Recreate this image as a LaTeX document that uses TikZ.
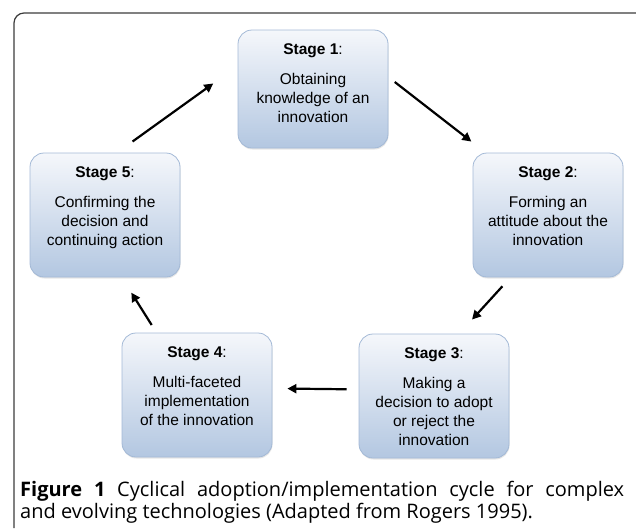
\documentclass[tikz,border=0pt]{standalone}
\usepackage{fontspec}
\setmainfont{Liberation Sans}
\newfontfamily\capfont{Open Sans}
\usetikzlibrary{arrows.meta}
\usetikzlibrary{shadows}

\definecolor{stagetop}{HTML}{F5F7FB}
\definecolor{stagebottom}{HTML}{B3C7E1}
\definecolor{stageedge}{HTML}{A3B9D6}
\definecolor{framegray}{HTML}{3C3C3C}

% text of one stage box, hung from the top
\newcommand{\stagebox}[3]{%
  \parbox[c][#2][t]{150pt}{\centering\fontsize{15.5}{19}\selectfont
    \vspace{14pt}\textbf{Stage #1}:\par\vspace{11pt}#3}}

\begin{document}
\begin{tikzpicture}[x=1pt, y=-1pt,
    stage/.style={draw=stageedge, line width=0.8pt, rounded corners=14pt,
      top color=stagetop, bottom color=stagebottom, inner sep=0pt,
      drop shadow={opacity=0.2, shadow xshift=0.5pt, shadow yshift=-1.5pt}},
    flow/.style={line width=2.2pt, -{Triangle[length=9pt, width=9pt]}}]
      \useasboundingbox (0, 0) rectangle (636, 528);

      \draw[line width=1.2pt, framegray, rounded corners=10pt] (14, 528) -- (14, 13) -- (636, 13);

      \node[stage] (s1) at (313, 89) {\stagebox{1}{118pt}{Obtaining\\knowledge of an\\innovation}};
      \node[stage] (s2) at (548, 215) {\stagebox{2}{124pt}{Forming an\\attitude about the\\innovation}};
      \node[stage] (s3) at (434, 396) {\stagebox{3}{124pt}{Making a\\decision to adopt\\or reject the\\innovation}};
      \node[stage] (s4) at (197, 395) {\stagebox{4}{124pt}{Multi-faceted\\implementation\\of the innovation}};
      \node[stage] (s5) at (105, 215) {\stagebox{5}{124pt}{Confirming the\\decision and\\continuing action}};

      \draw[flow, shorten <=8pt, shorten >=18pt] (s1.9) -- (s2.135);
      \draw[flow, shorten <=12pt, shorten >=19pt] (s2.239) -- (s3.68);
      \draw[flow, shorten <=12pt, shorten >=15pt] (s3.175) -- (s4.5);
      \draw[flow, shorten <=9pt, shorten >=18pt] (s4.123) -- (s5.285);
      \draw[flow, shorten <=19pt, shorten >=30pt] (s5.79) -- (s1.163);

      \node[anchor=north west, inner sep=0pt, text width=604pt, align=justify,
        font=\capfont\fontsize{20}{22}\selectfont] (cap) at (20, 481)
        {\textbf{Figure 1} Cyclical adoption/implementation cycle for complex\linebreak
         and evolving technologies (Adapted from Rogers 1995).};
    \end{tikzpicture}
\end{document}
